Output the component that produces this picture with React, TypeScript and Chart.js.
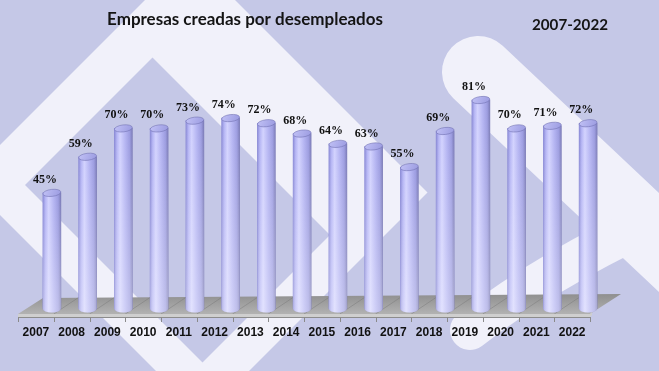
import { useEffect, useRef } from "react";
import { Chart, registerables } from "chart.js";

Chart.register(...registerables);

const years = ["2007", "2008", "2009", "2010", "2011", "2012", "2013", "2014", "2015", "2016", "2017", "2018", "2019", "2020", "2021", "2022"];
const values = [45, 59, 70, 70, 73, 74, 72, 68, 64, 63, 55, 69, 81, 70, 71, 72];
const titleText = "Empresas creadas por desempleados";
const periodText = "2007-2022";

const DEPTH = 16;

function barGradient(ctx: CanvasRenderingContext2D, x0: number, x1: number) {
  const g = ctx.createLinearGradient(x0, 0, x1, 0);
  g.addColorStop(0, "#8a8ad6");
  g.addColorStop(0.14, "#b4b4f4");
  g.addColorStop(0.32, "#d2d2fe");
  g.addColorStop(0.6, "#b4b4f2");
  g.addColorStop(0.85, "#9c9ce0");
  g.addColorStop(1, "#7c7cb8");
  return g;
}

function drawBackground(ctx: CanvasRenderingContext2D, w: number, h: number) {
  ctx.save();
  ctx.fillStyle = "#c5c8e7";
  ctx.fillRect(0, 0, w, h);
  ctx.fillStyle = "#f1f1fa";
  ctx.beginPath();
  ctx.moveTo(190, -45);
  ctx.lineTo(427.5, 192.5);
  ctx.lineTo(202.5, 417.5);
  ctx.lineTo(-35, 180);
  ctx.closePath();
  ctx.moveTo(152.5, 57.5);
  ctx.lineTo(25, 185);
  ctx.lineTo(202.5, 362.5);
  ctx.lineTo(330, 235);
  ctx.closePath();
  ctx.fill("evenodd");
  ctx.strokeStyle = "#f1f1fa";
  ctx.lineCap = "round";
  ctx.lineWidth = 72;
  ctx.beginPath();
  ctx.moveTo(478, 72);
  ctx.lineTo(720, 300);
  ctx.stroke();
  ctx.lineWidth = 40;
  ctx.beginPath();
  ctx.moveTo(700, 200);
  ctx.quadraticCurveTo(560, 260, 470, 330);
  ctx.stroke();
  ctx.restore();
}

const decorPlugin = {
  id: "decor",
  beforeDraw(chart: any) {
    drawBackground(chart.ctx, chart.width, chart.height);
  },
  beforeDatasetsDraw(chart: any) {
    const ctx = chart.ctx as CanvasRenderingContext2D;
    const xs = chart.scales.x;
    const ys = chart.scales.y;
    const n = years.length;
    const cw = xs.width / n;
    const left = xs.getPixelForValue(0) - cw / 2 - DEPTH;
    const right = xs.getPixelForValue(n - 1) + cw / 2 - DEPTH;
    const baseY = ys.getPixelForValue(0);
    const front = baseY + 5;
    ctx.save();
    const g = ctx.createLinearGradient(0, baseY - 15, 0, front);
    g.addColorStop(0, "#8f8f8f");
    g.addColorStop(1, "#b2b2b2");
    ctx.fillStyle = g;
    ctx.beginPath();
    ctx.moveTo(left, front);
    ctx.lineTo(left + 25, baseY - 11);
    ctx.lineTo(right + 31, baseY - 15);
    ctx.lineTo(right, front);
    ctx.closePath();
    ctx.fill();
    ctx.strokeStyle = "rgba(120,120,120,0.45)";
    ctx.lineWidth = 1;
    for (let k = 1; k < n; k++) {
      const fx = left + k * cw;
      ctx.beginPath();
      ctx.moveTo(fx, front);
      ctx.lineTo(fx + 27, baseY - 13);
      ctx.stroke();
    }
    ctx.fillStyle = "#cfcfcf";
    ctx.beginPath();
    ctx.moveTo(left, front);
    ctx.lineTo(right, front);
    ctx.lineTo(right + 2, front - 2);
    ctx.lineTo(right + 2, front + 1);
    ctx.lineTo(right, front + 3);
    ctx.lineTo(left, front + 3);
    ctx.closePath();
    ctx.fill();
    ctx.strokeStyle = "#8c8c8c";
    ctx.beginPath();
    ctx.moveTo(left, front + 3.5);
    ctx.lineTo(right, front + 3.5);
    ctx.stroke();
    ctx.strokeStyle = "#8a8a8a";
    for (let k = 0; k <= n; k++) {
      const fx = Math.round(left + k * cw) + 0.5;
      ctx.beginPath();
      ctx.moveTo(fx, front + 3);
      ctx.lineTo(fx, front + 8);
      ctx.stroke();
    }
    ctx.restore();
  },
  afterDatasetsDraw(chart: any) {
    const ctx = chart.ctx as CanvasRenderingContext2D;
    const meta = chart.getDatasetMeta(0);
    ctx.save();
    meta.data.forEach((el: any, i: number) => {
      const { x, y, base, width } = el.getProps(["x", "y", "base", "width"], true);
      if (![x, y, base, width].every((v) => Number.isFinite(v))) return;
      const hw = width / 2;
      const ry = 3.5;
      const vg = ctx.createLinearGradient(0, y, 0, base);
      vg.addColorStop(0, "rgba(255,255,255,0)");
      vg.addColorStop(1, "rgba(255,255,255,0.35)");
      ctx.fillStyle = vg;
      ctx.fillRect(x - hw, y, width, base - y);
      ctx.beginPath();
      ctx.ellipse(x, base, hw, ry, 0, 0, Math.PI);
      ctx.closePath();
      ctx.fillStyle = barGradient(ctx, x - hw, x + hw);
      ctx.fill();
      ctx.fillStyle = "rgba(255,255,255,0.35)";
      ctx.fill();
      ctx.beginPath();
      ctx.ellipse(x, y, hw, ry, -0.12, 0, Math.PI * 2);
      const cg = ctx.createLinearGradient(x - hw, y - ry, x + hw, y + ry);
      cg.addColorStop(0, "#c2c2f6");
      cg.addColorStop(1, "#9a9ae0");
      ctx.fillStyle = cg;
      ctx.fill();
      ctx.strokeStyle = "rgba(110,110,175,0.7)";
      ctx.lineWidth = 0.8;
      ctx.stroke();
      ctx.fillStyle = "#111";
      ctx.font = 'bold 12px "Liberation Serif", "Times New Roman", serif';
      ctx.textAlign = "center";
      ctx.textBaseline = "middle";
      ctx.fillText(values[i] + "%", x - 7, y - 13);
    });
    ctx.restore();
  },
  afterDraw(chart: any) {
    const ctx = chart.ctx as CanvasRenderingContext2D;
    ctx.save();
    ctx.fillStyle = "#141414";
    ctx.textAlign = "center";
    ctx.textBaseline = "middle";
    ctx.font = 'bold 20px Lato, "Open Sans", sans-serif';
    let w = ctx.measureText(titleText).width;
    let size = (20 * 276) / w;
    ctx.font = `bold ${size}px Lato, "Open Sans", sans-serif`;
    ctx.fillText(titleText, 245, 20);
    ctx.font = 'bold 20px Lato, "Open Sans", sans-serif';
    w = ctx.measureText(periodText).width;
    size = (20 * 76) / w;
    ctx.font = `bold ${size}px Lato, "Open Sans", sans-serif`;
    ctx.fillText(periodText, 570, 25);
    ctx.restore();
  },
};

export default function App() {
  const canvasRef = useRef<HTMLCanvasElement | null>(null);

  useEffect(() => {
    const canvas = canvasRef.current;
    if (!canvas) return;
    const chart = new Chart(canvas, {
      type: "bar",
      data: {
        labels: years,
        datasets: [
          {
            data: values,
            borderWidth: 0,
            barThickness: 18,
            backgroundColor: (c: any) => {
              const ch = c.chart;
              const xs = ch.scales && ch.scales.x;
              if (!xs || c.dataIndex == null) return "#b4b4f2";
              const cx = xs.getPixelForValue(c.dataIndex);
              if (!Number.isFinite(cx)) return "#b4b4f2";
              return barGradient(ch.ctx, cx - 9, cx + 9);
            },
          },
        ],
      },
      options: {
        responsive: false,
        maintainAspectRatio: false,
        animation: false,
        layout: { padding: { left: 34, right: 53, top: 51, bottom: 0 } },
        plugins: {
          legend: { display: false },
          tooltip: { enabled: false },
          title: { display: false },
        },
        scales: {
          x: {
            grid: { display: false, drawTicks: false },
            border: { display: false },
            ticks: {
              labelOffset: -DEPTH,
              padding: 16,
              color: "#111",
              autoSkip: false,
              maxRotation: 0,
              font: { family: '"Liberation Sans", Arial, sans-serif', weight: "bold", size: 12 },
            },
            afterFit: (s: any) => {
              s.height = 62;
            },
          },
          y: { display: false, min: 0, max: 100 },
        },
      },
      plugins: [decorPlugin],
    });
    return () => chart.destroy();
  }, []);

  return (
    <div style={{ position: "fixed", left: 0, top: 0, width: 659, height: 371 }}>
      <canvas ref={canvasRef} width={659} height={371} style={{ display: "block" }} />
    </div>
  );
}
